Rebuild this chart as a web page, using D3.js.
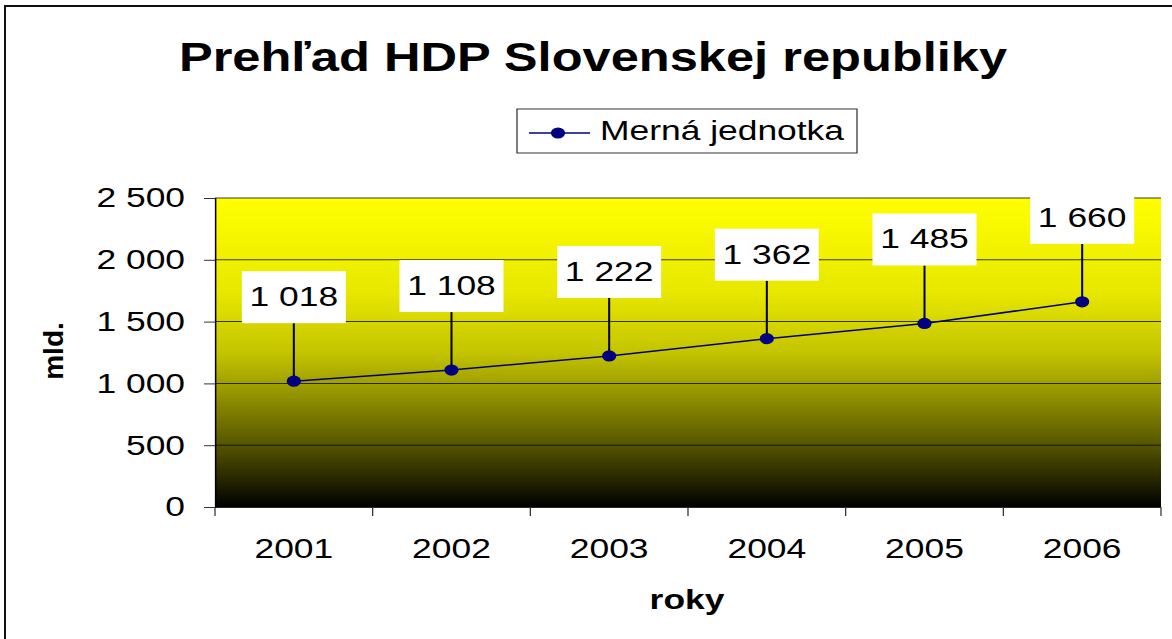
<!DOCTYPE html>
<html>
<head>
<meta charset="utf-8">
<script src="https://cdn.jsdelivr.net/npm/d3@7/dist/d3.min.js"></script>
<style>
  html, body { margin: 0; padding: 0; background: #fff; }
  svg { display: block; }
  text { font-family: Arial, "Liberation Sans", sans-serif; fill: #000; }
</style>
</head>
<body>
<script>
// ---- data ----
const years = ["2001", "2002", "2003", "2004", "2005", "2006"];
const values = [1018, 1108, 1222, 1362, 1485, 1660];
const yTicks = [0, 500, 1000, 1500, 2000, 2500];
const seriesName = "Merná jednotka";
const titleText = "Prehľad HDP Slovenskej republiky";
const xTitle = "roky";
const yTitle = "mld.";

// ---- layout ----
const W = 1172, H = 639;
const S = 1.265;             // horizontal stretch of the original picture
const plot = { left: 215, right: 1161, top: 198, bottom: 507 };
const fmt = d3.formatLocale({ decimal: ",", thousands: " ", grouping: [3], currency: ["", ""] }).format(",d");

const svg = d3.select("body").append("svg").attr("width", W).attr("height", H);

// gradient
const defs = svg.append("defs");
const grad = defs.append("linearGradient").attr("id", "bg").attr("x1", 0).attr("y1", 0).attr("x2", 0).attr("y2", 1);
[[0, "#ffff00"], [0.3, "#e8e800"], [0.5, "#c4c400"], [0.65, "#8e8e00"], [0.8, "#555500"], [1, "#000000"]]
  .forEach(([o, c]) => grad.append("stop").attr("offset", o).attr("stop-color", c));

// outer border
svg.append("rect").attr("x", 5).attr("y", 6).attr("width", W + 10).attr("height", H + 10)
  .attr("fill", "none").attr("stroke", "#111").attr("stroke-width", 2);

const g = svg.append("g").attr("transform", `scale(${S},1)`);

const x = d3.scaleBand().domain(years).range([plot.left / S, plot.right / S]);
const y = d3.scaleLinear().domain([0, 2500]).range([plot.bottom, plot.top]);

// plot background
g.append("rect").attr("x", x.range()[0]).attr("y", plot.top)
  .attr("width", x.range()[1] - x.range()[0]).attr("height", plot.bottom - plot.top)
  .attr("fill", "url(#bg)");

// gridlines
g.append("g").selectAll("line").data(yTicks).join("line")
  .attr("x1", x.range()[0]).attr("x2", x.range()[1])
  .attr("y1", d => y(d)).attr("y2", d => y(d))
  .attr("stroke", "#000").attr("stroke-opacity", 0.75).attr("stroke-width", 1);

// y axis
const yAxis = g.append("g").attr("transform", `translate(${x.range()[0]},0)`)
  .call(d3.axisLeft(y).tickValues(yTicks).tickSize(11 / S).tickPadding(19 / S).tickFormat(fmt));
yAxis.select(".domain").attr("stroke", "#000").attr("stroke-width", 1.2);
yAxis.selectAll(".tick line").attr("stroke", "#333");
yAxis.selectAll(".tick text").attr("font-size", 28).attr("font-family", "Arial, 'Liberation Sans', sans-serif").attr("fill", "#000");

// x axis line + boundary ticks
g.append("line").attr("x1", x.range()[0]).attr("x2", x.range()[1])
  .attr("y1", plot.bottom).attr("y2", plot.bottom).attr("stroke", "#000").attr("stroke-width", 1.5);
const bounds = years.map(d => x(d)).concat([x.range()[1]]);
g.append("g").selectAll("line").data(bounds).join("line")
  .attr("x1", d => d).attr("x2", d => d).attr("y1", plot.bottom).attr("y2", plot.bottom + 9)
  .attr("stroke", "#333").attr("stroke-width", 1);
g.append("g").selectAll("text").data(years).join("text")
  .attr("x", d => x(d) + x.bandwidth() / 2).attr("y", 558)
  .attr("text-anchor", "middle").attr("font-size", 28).text(d => d);

// line
const cx = (d, i) => x(years[i]) + x.bandwidth() / 2;
g.append("path").datum(values)
  .attr("d", d3.line().x((d, i) => cx(d, i)).y(d => y(d)))
  .attr("fill", "none").attr("stroke", "#000080").attr("stroke-width", 1.5);

// data labels with leader lines
const boxW = 104 / S, boxH = 52, gap = 58;
const lab = g.append("g").selectAll("g").data(values).join("g");
lab.append("line")
  .attr("x1", (d, i) => cx(d, i)).attr("x2", (d, i) => cx(d, i))
  .attr("y1", d => y(d) - gap).attr("y2", d => y(d))
  .attr("stroke", "#000").attr("stroke-width", 1.6);
lab.append("rect")
  .attr("x", (d, i) => cx(d, i) - boxW / 2).attr("y", d => y(d) - gap - boxH)
  .attr("width", boxW).attr("height", boxH).attr("fill", "#fff");
lab.append("text")
  .attr("x", (d, i) => cx(d, i)).attr("y", d => y(d) - gap - boxH + 35)
  .attr("text-anchor", "middle").attr("font-size", 28).text(d => fmt(d));

// markers
g.append("g").selectAll("circle").data(values).join("circle")
  .attr("cx", (d, i) => cx(d, i)).attr("cy", d => y(d)).attr("r", 5.6)
  .attr("fill", "#000080");

// title
g.append("text").attr("x", 593 / S).attr("y", 71).attr("text-anchor", "middle")
  .attr("font-size", 40).attr("font-weight", "bold").text(titleText);

// legend
g.append("rect").attr("x", 517 / S).attr("y", 109).attr("width", (857 - 517) / S).attr("height", 44)
  .attr("fill", "#fff").attr("stroke", "#333").attr("stroke-width", 1);
g.append("line").attr("x1", 529 / S).attr("x2", 590 / S).attr("y1", 133).attr("y2", 133)
  .attr("stroke", "#000080").attr("stroke-width", 1.5);
g.append("circle").attr("cx", 558 / S).attr("cy", 133).attr("r", 5.6).attr("fill", "#000080");
g.append("text").attr("x", 600 / S).attr("y", 140).attr("font-size", 28).text(seriesName);

// x title
g.append("text").attr("x", 687 / S).attr("y", 609).attr("text-anchor", "middle")
  .attr("font-size", 28).attr("font-weight", "bold").text(xTitle);

// y title (not stretched)
svg.append("text").attr("transform", "translate(63,351) rotate(-90)")
  .attr("text-anchor", "middle").attr("font-size", 28).attr("font-weight", "bold").text(yTitle);
</script>
</body>
</html>
